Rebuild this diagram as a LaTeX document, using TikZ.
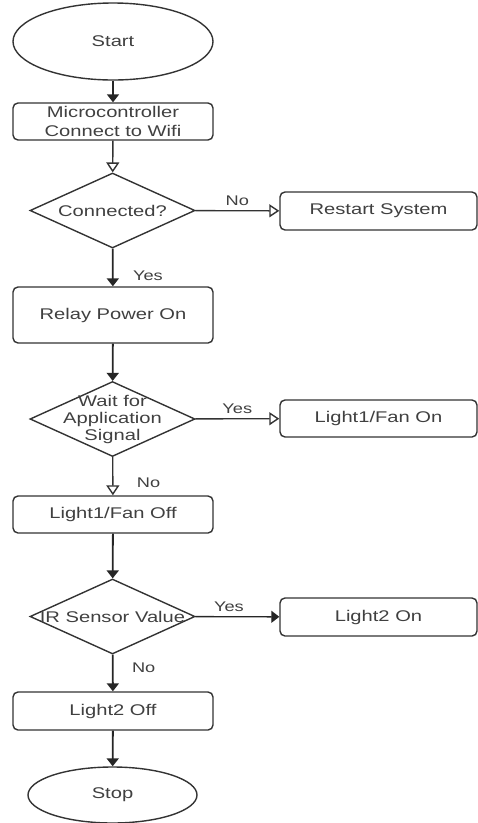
\documentclass[tikz,border=0pt]{standalone}
\usepackage{fontspec}
\setmainfont[FakeStretch=1.3]{Liberation Sans}
\usetikzlibrary{arrows.meta,shapes.geometric}

\begin{document}
\begin{tikzpicture}[x=1pt, y=-1pt,
  line width=1.4pt,
  every node/.style={text=black!75, font=\fontsize{15.5}{19}\selectfont},
  terminal/.style={ellipse, draw=black!80, inner sep=0pt},
  process/.style={rectangle, rounded corners=5pt, draw=black!80, inner sep=0pt,
                  minimum width=200pt, minimum height=37pt, align=center},
  sidebox/.style={process, minimum width=197pt},
  decision/.style={diamond, draw=black!80, inner sep=0pt,
                   minimum width=165pt, minimum height=75pt},
  flow/.style={draw=black!85, line width=1.8pt, -{Triangle[length=8pt,width=12pt]}},
  flowopen/.style={draw=black!80, line width=1.4pt, -{Triangle[open,length=10pt,width=13pt]}},
  yesno/.style={font=\fontsize{14}{16}\selectfont}
]

  % ====== 1) 画布范围 ======
  \useasboundingbox (0,0) rectangle (478,823);

  % ====== 2) 主流程（左列） ======
  \node[terminal, minimum width=200pt, minimum height=77pt] (start) at (113,41.5) {Start};
  \node[process] (wifi) at (113,121.5) {Microcontroller\\Connect to Wifi};
  \node[decision, label=center:{Connected?}] (conn) at (112.5,210.5) {};
  \node[process, minimum height=56pt] (relay) at (113,315) {Relay Power On};
  \node[decision, label={[align=center, font=\fontsize{15.5}{17}\selectfont]center:Wait for\\Application\\Signal}] (wait) at (112.5,419) {};
  \node[process] (fanoff) at (113,514.5) {Light1/Fan Off};
  \node[decision, label=center:{IR Sensor Value}] (ir) at (112.5,616.5) {};
  \node[process, minimum height=38pt] (ltoff) at (113,711) {Light2 Off};
  \node[terminal, minimum width=169pt, minimum height=56pt] (stop) at (112.5,795) {Stop};

  % ====== 3) 分支（右列） ======
  \node[sidebox, minimum height=38pt] (restart) at (378.5,211) {Restart System};
  \node[sidebox] (fanon) at (378.5,418.5) {Light1/Fan On};
  \node[sidebox, minimum height=38pt] (lton) at (378.5,617) {Light2 On};

  % ====== 4) 竖向连线 ======
  \draw[flow] (start) -- (wifi);
  \draw[flowopen] (wifi) -- (conn);
  \draw[flow] (conn) -- (relay) node[yesno, pos=0.72, right=16pt] {Yes};
  \draw[flow] (relay) -- (wait);
  \draw[flowopen] (wait) -- (fanoff) node[yesno, pos=0.68, right=20pt] {No};
  \draw[flow] (fanoff) -- (ir);
  \draw[flow] (ir) -- (ltoff) node[yesno, pos=0.37, right=15pt] {No};
  \draw[flow] (ltoff) -- (stop);

  % ====== 5) 横向连线 ======
  \draw[flowopen] (conn) -- (restart) node[yesno, midway, above=1pt] {No};
  \draw[flowopen] (wait) -- (fanon) node[yesno, midway, above=1pt] {Yes};
  \draw[flow, line width=1.4pt] (ir) -- (lton) node[yesno, pos=0.4, above=1pt] {Yes};

\end{tikzpicture}
\end{document}
